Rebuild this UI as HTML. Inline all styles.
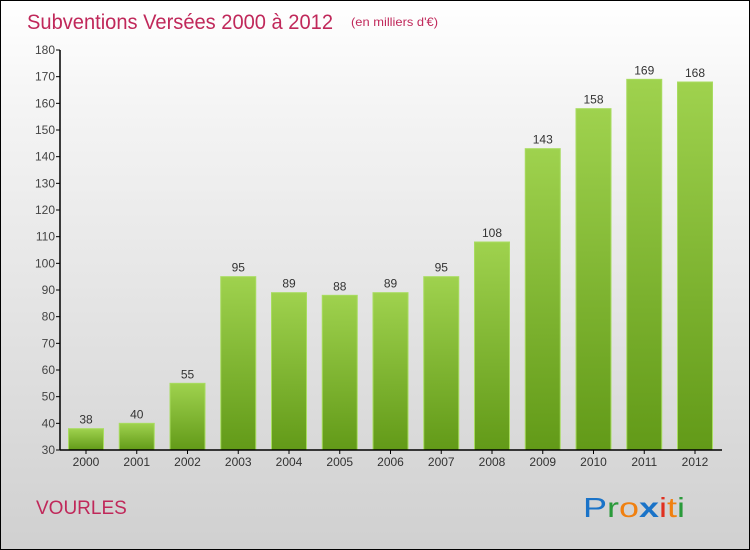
<!DOCTYPE html>
<html><head><meta charset="utf-8"><style>
html,body{margin:0;padding:0}
body{width:750px;height:550px;overflow:hidden;font-family:"Liberation Sans",sans-serif}
#wrap{position:absolute;left:0;top:0;width:748px;height:548px;border:1px solid #000;background:linear-gradient(#ffffff,#f4f4f4 20%,#d0d0d0)}
</style></head><body>
<div id="wrap">
<svg width="748" height="548" viewBox="1 1 748 548" style="position:absolute;left:0;top:0">
<defs><linearGradient id="bg" x1="0" y1="0" x2="0" y2="1"><stop offset="0" stop-color="#9fd24e"/><stop offset="1" stop-color="#629a18"/></linearGradient></defs>
<text x="27" y="29" font-size="21" fill="#c0285a" textLength="306" lengthAdjust="spacingAndGlyphs">Subventions Versées 2000 à 2012</text>
<text x="351" y="26" font-size="12" fill="#c0285a" textLength="87" lengthAdjust="spacingAndGlyphs">(en milliers d'€)</text>
<g id="g"></g>
<text x="36" y="514" font-size="19" fill="#c0285a">VOURLES</text>
<text x="583" y="517" font-size="28" textLength="102" lengthAdjust="spacingAndGlyphs"><tspan fill="#1a73c8">P</tspan><tspan fill="#2a9a3a">r</tspan><tspan fill="#f08010">o</tspan><tspan fill="#1a73c8" font-weight="bold">x</tspan><tspan fill="#e03020">i</tspan><tspan fill="#f08010">t</tspan><tspan fill="#2a9a3a">i</tspan></text>
</svg></div>
<script>
const years=["2000","2001","2002","2003","2004","2005","2006","2007","2008","2009","2010","2011","2012"];
const values=[38,40,55,95,89,88,89,95,108,143,158,169,168];
const yTicks=[30,40,50,60,70,80,90,100,110,120,130,140,150,160,170,180];
const g=document.getElementById('g');const NS='http://www.w3.org/2000/svg';
const y=v=>450-(v-30)*400/150;const xc=i=>86+i*50.75;
function mk(t,a){const e=document.createElementNS(NS,t);for(const k in a)e.setAttribute(k,a[k]);g.appendChild(e);return e;}
yTicks.forEach(t=>{
 const l=mk('line',{x1:56,x2:60,y1:y(t),y2:y(t),stroke:'#000'});
 
 
 const tx=mk('text',{x:55,y:y(t)+4,'font-size':12,'text-anchor':'end',fill:'#444'});tx.textContent=t;
 
 
});
values.forEach((v,i)=>{
 const r=mk('rect',{x:xc(i)-17.5,y:y(v),width:35,height:450-y(v),fill:'url(#bg)',stroke:'#a8dc60','stroke-width':1});
 
 
 const t=mk('text',{x:xc(i),y:y(v)-5,'font-size':12,'text-anchor':'middle',fill:'#333'});t.textContent=v;
 
 
 const tk=mk('line',{x1:xc(i),x2:xc(i),y1:450,y2:454,stroke:'#000'});
 
 
 const xl=mk('text',{x:xc(i),y:466,'font-size':12,'text-anchor':'middle',fill:'#333'});xl.textContent=years[i];
 
 
});
const ya=mk('line',{x1:60,x2:60,y1:y(180),y2:450,stroke:'#000','stroke-width':1.5});


const xa=mk('line',{x1:60,x2:722,y1:450,y2:450,stroke:'#000','stroke-width':1.5});


</script>
</body></html>
